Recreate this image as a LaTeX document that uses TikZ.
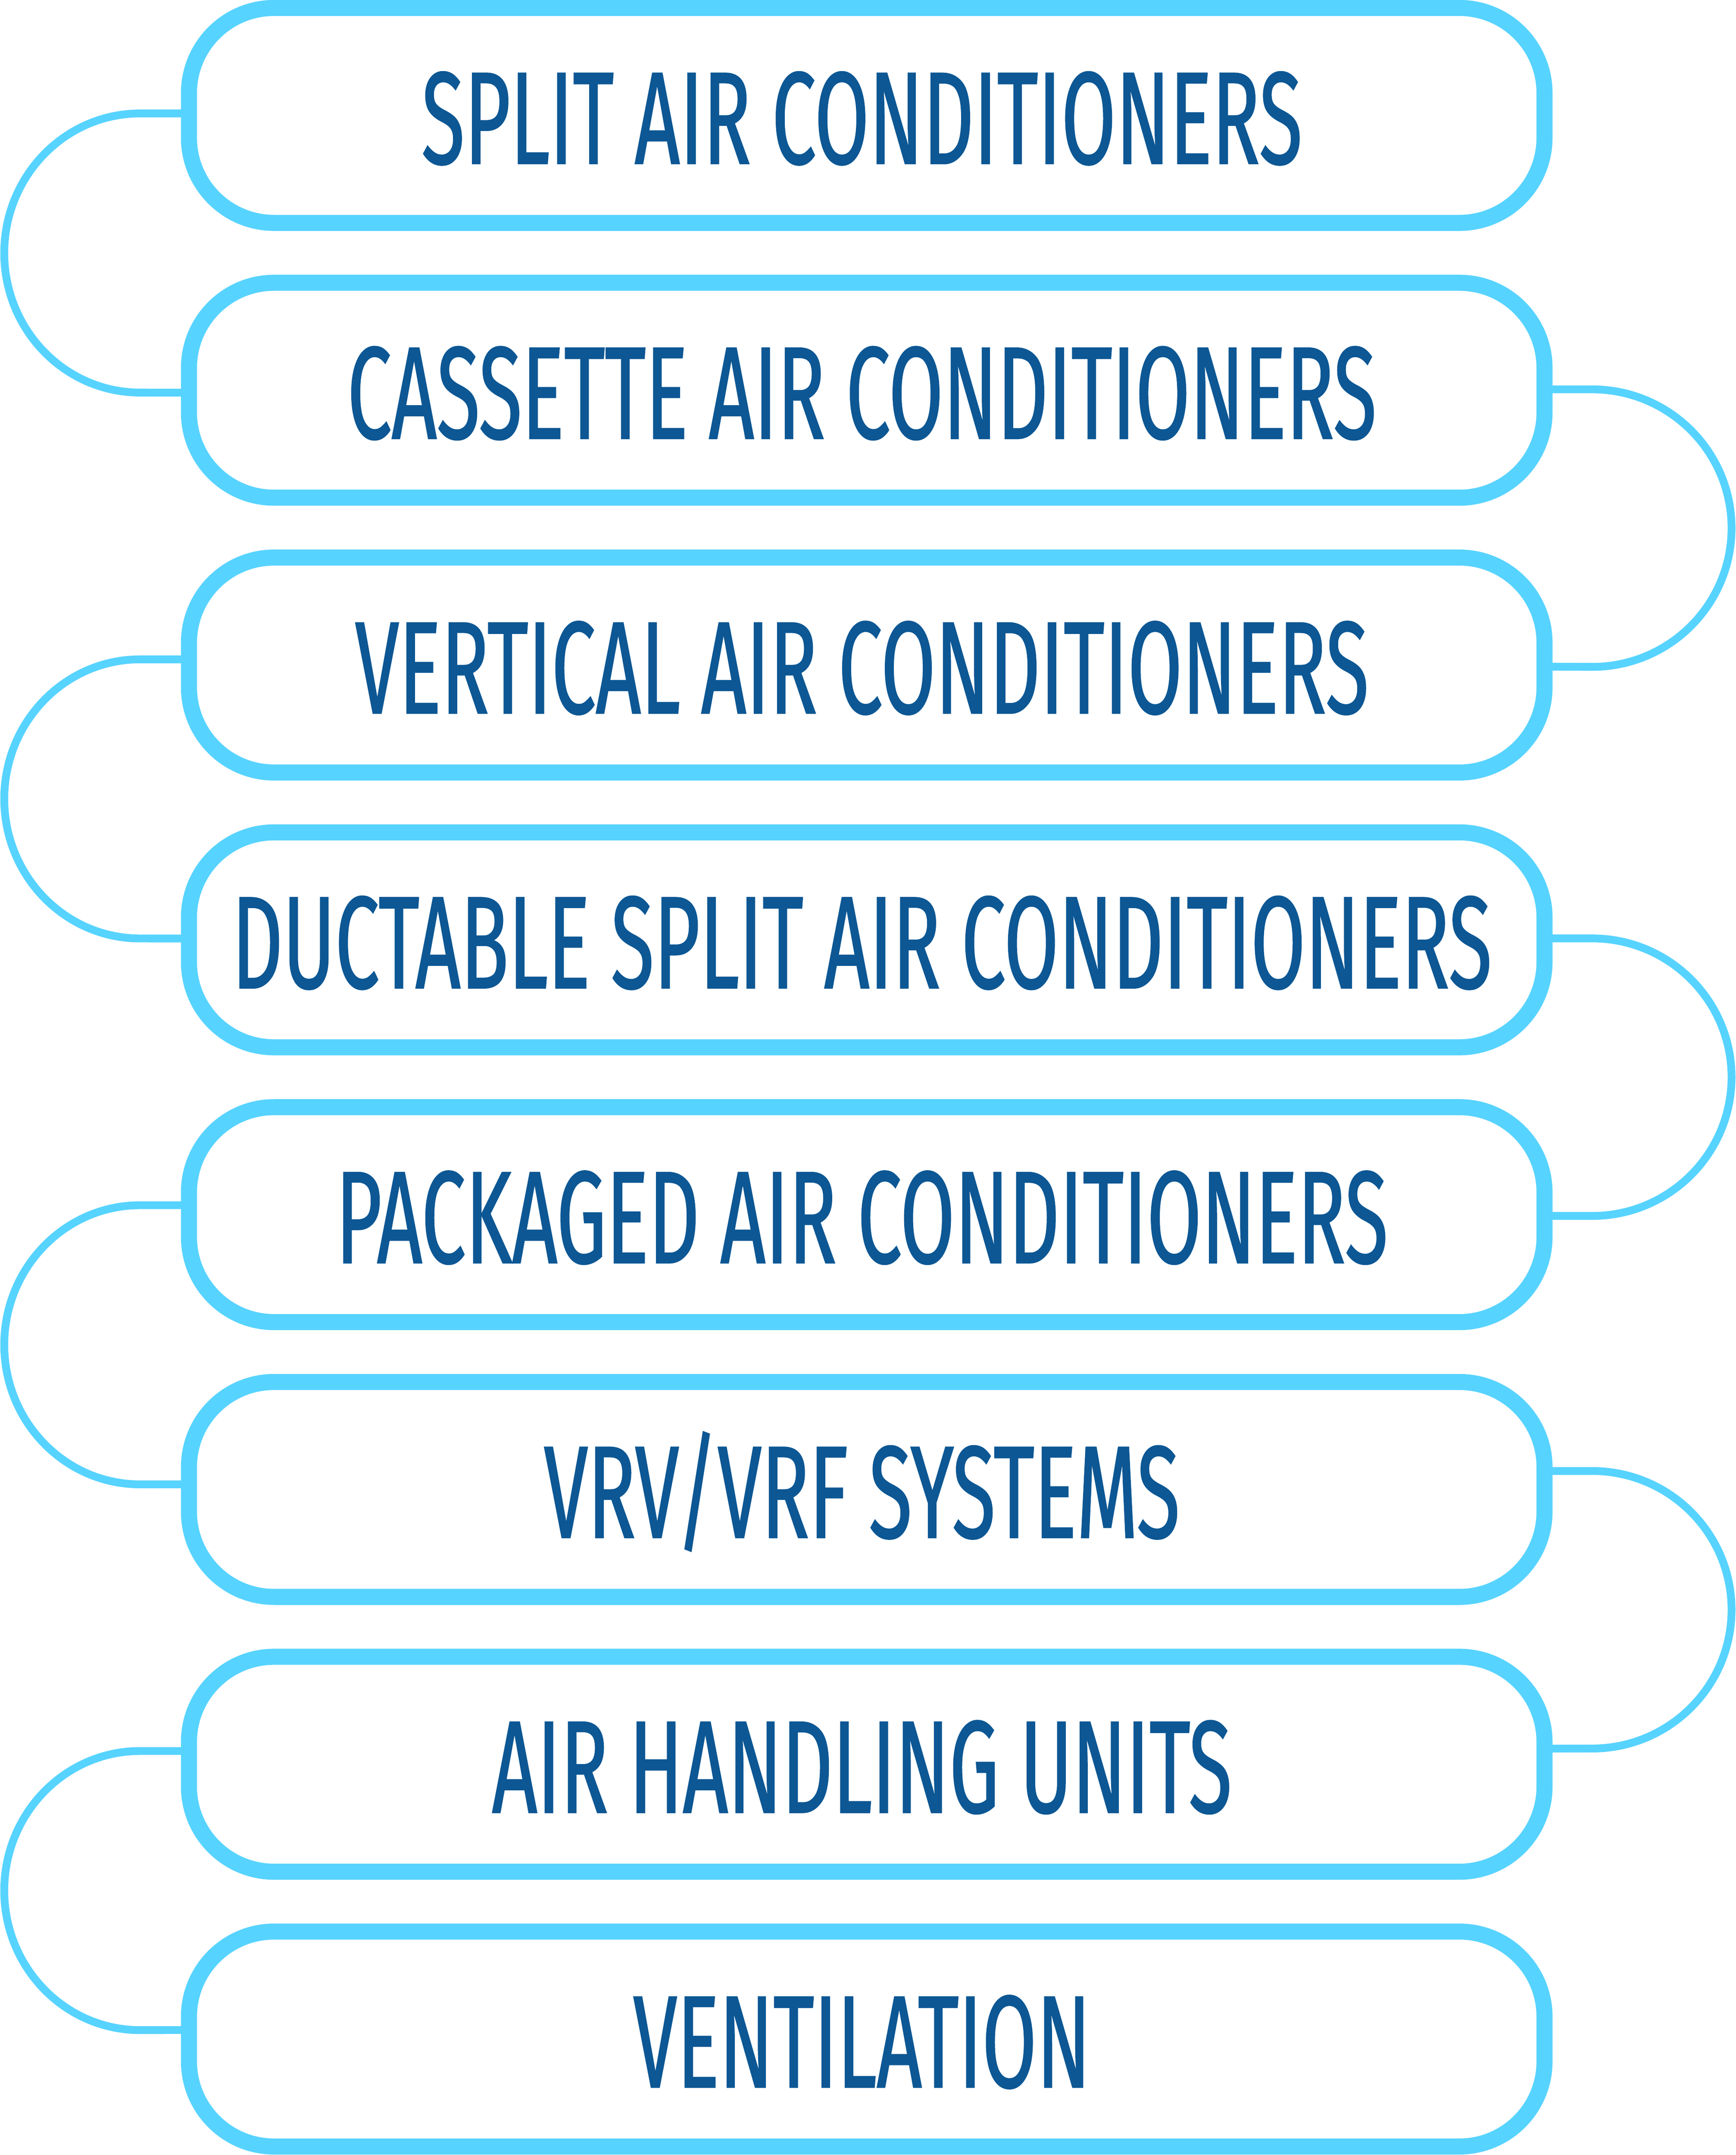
\documentclass[tikz,border=0pt]{standalone}
\usepackage{fontspec}
\usepackage{tikz}
\newfontfamily\labelfont[FakeStretch=0.6, FakeBold=0.8]{Fira Sans}
\definecolor{linecyan}{HTML}{57D3FF}
\definecolor{textblue}{HTML}{0C5794}

\begin{document}
\begin{tikzpicture}[
        x=1pt, y=-1pt,
        box/.style={draw=linecyan, line width=11.7pt, rounded corners=62pt,
            minimum width=987.1pt, minimum height=156.5pt, inner sep=0pt, outer sep=0pt},
        itemtext/.style={font=\labelfont\fontsize{95.8pt}{100pt}\selectfont, text=textblue,
            text height=66pt, text depth=0pt, inner sep=0pt, outer sep=0pt},
        link/.style={draw=linecyan, line width=5.7pt},
        declare function={
            Top=84.05;
            Gap=200.1;
            MidX=631.15;
        }
    ]
        \useasboundingbox (0,0) rectangle (1264,1569.2);

        \foreach \txt [count=\i] in {SPLIT AIR CONDITIONERS, CASSETTE AIR CONDITIONERS,
            VERTICAL AIR CONDITIONERS, DUCTABLE SPLIT AIR CONDITIONERS, PACKAGED AIR CONDITIONERS,
            {VRV/VRF SYSTEMS}, AIR HANDLING UNITS, VENTILATION} {
            \node[box] (b\i) at (MidX, {Top + Gap*(\i-1)}) {};
            \node[itemtext] (t\i) at ([xshift=-3.5pt, yshift=-2.2pt]b\i.center) {\txt};
        }

        \foreach \a/\b/\sa/\sb in {1/2/1.45pt/-1.75pt, 3/4/4.15pt/0.95pt, 5/6/6.85pt/3.75pt, 7/8/9.65pt/6.55pt}
            \draw[link] ([yshift=\sa]b\a.west) -- ++(-35.6pt,0)
                arc[start angle=90, end angle=270, x radius=98.9pt, y radius=101.62pt]
                -- ([yshift=\sb]b\b.west);

        \foreach \a/\b/\sa/\sb in {2/3/0.65pt/-1.15pt, 4/5/1.05pt/-0.95pt, 6/7/13.45pt/11.35pt}
            \draw[link] ([yshift=\sa]b\a.east) -- ++(34.6pt,0)
                arc[start angle=90, end angle=-90, x radius=101.6pt, y radius=101.05pt]
                -- ([yshift=\sb]b\b.east);
    \end{tikzpicture}
\end{document}
